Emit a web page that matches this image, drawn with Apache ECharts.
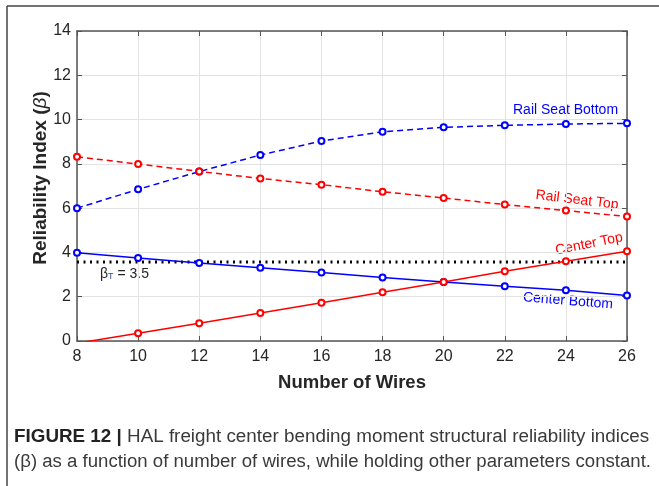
<!DOCTYPE html>
<html><head><meta charset="utf-8">
<script src="https://cdn.jsdelivr.net/npm/echarts@6/dist/echarts.min.js"></script>
<style>html,body{margin:0;padding:0;background:#fff}#c{width:659px;height:486px}</style>
</head><body><div id="c"></div>
<script>
const wires = [8, 10, 12, 14, 16, 18, 20, 22, 24, 26];
const railSeatBottom = [6.0, 6.85, 7.65, 8.40, 9.03, 9.45, 9.65, 9.74, 9.80, 9.83];
const railSeatTop = [8.32, 7.99, 7.66, 7.34, 7.06, 6.74, 6.46, 6.16, 5.89, 5.62];
const centerBottom = [3.99, 3.75, 3.52, 3.31, 3.09, 2.87, 2.66, 2.47, 2.29, 2.06];
const centerTop = [-0.10, 0.35, 0.80, 1.26, 1.73, 2.20, 2.66, 3.15, 3.60, 4.05];
const betaT = 3.57;
const xTicks = [8, 10, 12, 14, 16, 18, 20, 22, 24, 26];
const yTicks = [0, 2, 4, 6, 8, 10, 12, 14];

const FF = 'Liberation Sans, Arial, sans-serif';
const pair = arr => wires.map((w, i) => [w, arr[i]]);
const chart = echarts.init(document.getElementById('c'), null, {renderer: 'canvas'});
const tickFont = {fontFamily: FF, fontSize: 16, color: '#262626'};
const gridLine = {show: true, lineStyle: {color: '#e3e3e3', width: 1}};
function mkLine(name, data, color, dashed) {
  return {
    name, type: 'line', data: pair(data), clip: true,
    symbol: 'emptyCircle', symbolSize: 6, showSymbol: true,
    lineStyle: {color, width: 1.5, type: dashed ? [6, 4] : 'solid'},
    itemStyle: {color, borderColor: color, borderWidth: 1.5},
    emphasis: {disabled: true}, animation: false, z: 3
  };
}
const option = {
  animation: false,
  grid: {left: 77, top: 31, right: 32, bottom: 145, containLabel: false},
  xAxis: [{
    type: 'value', min: 8, max: 26, interval: 2,
    name: 'Number of Wires', nameLocation: 'middle', nameGap: 32,
    nameTextStyle: {fontFamily: FF, fontSize: 18.5, fontWeight: 'bold', color: '#262626'},
    axisLine: {show: true, onZero: false, lineStyle: {color: '#555', width: 1.5}},
    axisTick: {show: true, inside: true, length: 5, lineStyle: {color: '#555'}},
    axisLabel: Object.assign({margin: 8, formatter: v => xTicks.includes(v) ? String(v) : ''}, tickFont),
    splitLine: gridLine
  }, {
    type: 'value', position: 'top', min: 8, max: 26, interval: 2,
    axisLine: {show: true, onZero: false, lineStyle: {color: '#555', width: 1.5}},
    axisTick: {show: true, inside: true, length: 5, lineStyle: {color: '#555'}},
    axisLabel: {show: false}, splitLine: {show: false}
  }],
  yAxis: [{
    type: 'value', min: 0, max: 14, interval: 2,
    axisLine: {show: true, onZero: false, lineStyle: {color: '#555', width: 1.5}},
    axisTick: {show: true, inside: true, length: 5, lineStyle: {color: '#555'}},
    axisLabel: Object.assign({margin: 6, formatter: v => yTicks.includes(v) ? String(v) : ''}, tickFont),
    splitLine: gridLine
  }, {
    type: 'value', position: 'right', min: 0, max: 14, interval: 2,
    axisLine: {show: true, onZero: false, lineStyle: {color: '#555', width: 1.5}},
    axisTick: {show: true, inside: true, length: 5, lineStyle: {color: '#555'}},
    axisLabel: {show: false}, splitLine: {show: false}
  }],
  series: [
    {
      name: 'betaT', type: 'line', data: [[8, betaT], [26, betaT]], symbol: 'none',
      lineStyle: {color: '#000', width: 3, type: [2, 4.5]}, z: 2, silent: true
    },
    mkLine('Rail Seat Bottom', railSeatBottom, '#0000ff', true),
    mkLine('Rail Seat Top', railSeatTop, '#ff0000', true),
    mkLine('Center Bottom', centerBottom, '#0000ff', false),
    mkLine('Center Top', centerTop, '#ff0000', false)
  ],
  graphic: [
    {type: 'line', shape: {x1: 7, y1: 6, x2: 659, y2: 6}, style: {stroke: '#444', lineWidth: 1.5}},
    {type: 'line', shape: {x1: 7, y1: 6, x2: 7, y2: 486}, style: {stroke: '#444', lineWidth: 1.5}},
    {type: 'text', x: 41, y: 178, rotation: Math.PI / 2, style: {
      text: 'Reliability Index ({i|β})', align: 'center', verticalAlign: 'middle',
      fill: '#262626', font: 'bold 19px ' + FF,
      rich: {i: {fontStyle: 'italic', fontWeight: 'normal', fontSize: 19, fontFamily: FF, fill: '#262626'}}
    }},
    {type: 'text', left: 513, top: 103, style: {text: 'Rail Seat Bottom', fill: '#0000ff', font: '14px ' + FF}},
    {type: 'text', x: 577, y: 200, rotation: -0.12, style: {text: 'Rail Seat Top', fill: '#ff0000', font: '14px ' + FF, align: 'center', verticalAlign: 'middle'}},
    {type: 'text', x: 589, y: 244, rotation: 0.2, style: {text: 'Center Top', fill: '#ff0000', font: '14px ' + FF, align: 'center', verticalAlign: 'middle'}},
    {type: 'text', x: 568, y: 301, rotation: -0.08, style: {text: 'Center Bottom', fill: '#0000ff', font: '14px ' + FF, align: 'center', verticalAlign: 'middle'}},
    {type: 'text', left: 100, top: 267, style: {
      text: '{b|β}{s|T}{b| = 3.5}',
      rich: {
        b: {fill: '#262626', fontSize: 14, fontFamily: FF},
        s: {fill: '#2a4d8a', fontSize: 9, fontFamily: FF, verticalAlign: 'bottom', padding: [6, 0, 0, 0]}
      }
    }},
    {type: 'text', x: 14, y: 437, scaleX: 1.046, style: {
      text: '{bold|FIGURE 12 |} HAL freight center bending moment structural reliability indices',
      fill: '#3a3a3a', font: '18px ' + FF, verticalAlign: 'middle',
      rich: {bold: {fontWeight: 'bold', fontSize: 18, fontFamily: FF, fill: '#222'}}
    }},
    {type: 'text', x: 14, y: 462, scaleX: 1.033, style: {
      text: '(β) as a function of number of wires, while holding other parameters constant.',
      fill: '#3a3a3a', font: '18px ' + FF, verticalAlign: 'middle'
    }}
  ]
};
chart.setOption(option);
</script></body></html>
